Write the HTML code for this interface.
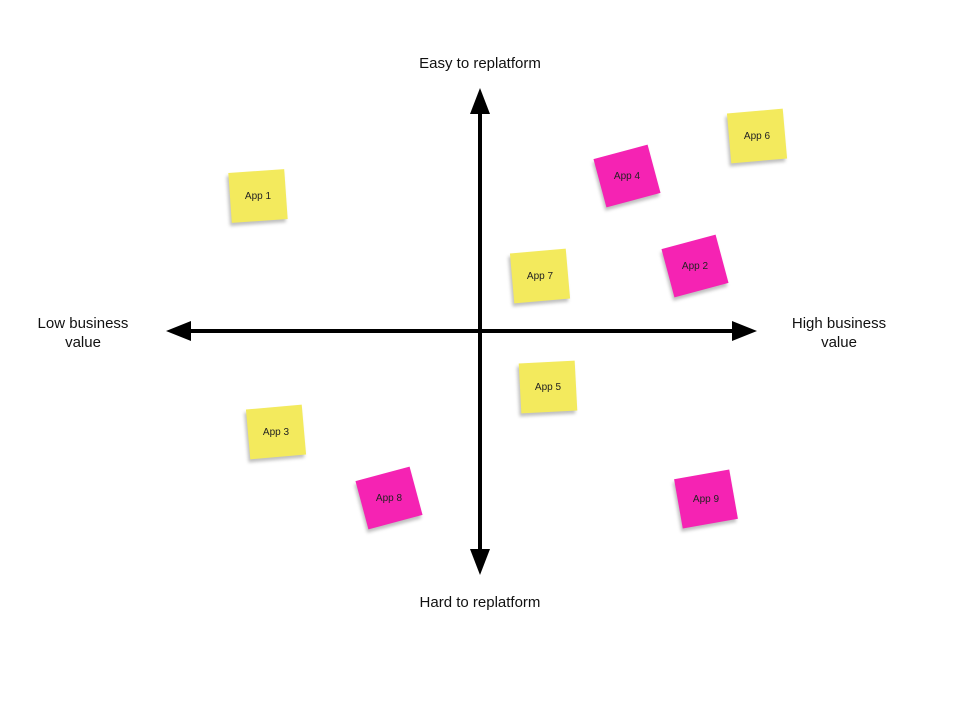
<!DOCTYPE html>
<html><head><meta charset="utf-8"><style>
body{margin:0;width:960px;height:720px;background:#fff;position:relative;overflow:hidden;font-family:"Liberation Sans",sans-serif}
.n{position:absolute;width:56px;height:50px;box-shadow:-2px 3px 3px rgba(0,0,0,0.25)}
.n span{position:absolute;left:0;right:0;top:0;bottom:0;display:flex;align-items:center;justify-content:center;font-size:10px;color:#222}
.y{background:#f3ea5d}
.p{background:#f523b3}
.l{position:absolute;font-size:15px;color:#111;text-align:center;line-height:19px}
</style></head><body>
<svg width="960" height="720" style="position:absolute;left:0;top:0">
<line x1="186" y1="331" x2="738" y2="331" stroke="#000" stroke-width="4"/>
<polygon points="166,331 191,321 191,341" fill="#000"/>
<polygon points="757,331 732,321 732,341" fill="#000"/>
<line x1="480" y1="108" x2="480" y2="556" stroke="#000" stroke-width="4"/>
<polygon points="480,88 470,114 490,114" fill="#000"/>
<polygon points="480,575 470,549 490,549" fill="#000"/>
</svg>
<div class="l" style="left:380px;top:54px;width:200px">Easy to replatform</div>
<div class="l" style="left:380px;top:593px;width:200px">Hard to replatform</div>
<div class="l" style="left:18px;top:314px;width:130px">Low business<br>value</div>
<div class="l" style="left:774px;top:314px;width:130px">High business<br>value</div>
<div class="n y" style="left:230px;top:171px;transform:rotate(-4deg)"><span style="transform:rotate(4deg)">App 1</span></div>
<div class="n p" style="left:599px;top:151px;transform:rotate(-15deg)"><span style="transform:rotate(15deg)">App 4</span></div>
<div class="n y" style="left:729px;top:111px;transform:rotate(-5deg)"><span style="transform:rotate(5deg)">App 6</span></div>
<div class="n y" style="left:512px;top:251px;transform:rotate(-5deg)"><span style="transform:rotate(5deg)">App 7</span></div>
<div class="n p" style="left:667px;top:241px;transform:rotate(-15deg)"><span style="transform:rotate(15deg)">App 2</span></div>
<div class="n y" style="left:520px;top:362px;transform:rotate(-3deg)"><span style="transform:rotate(3deg)">App 5</span></div>
<div class="n y" style="left:248px;top:407px;transform:rotate(-5deg)"><span style="transform:rotate(5deg)">App 3</span></div>
<div class="n p" style="left:361px;top:473px;transform:rotate(-15deg)"><span style="transform:rotate(15deg)">App 8</span></div>
<div class="n p" style="left:678px;top:474px;transform:rotate(-10deg)"><span style="transform:rotate(10deg)">App 9</span></div>
</body></html>
